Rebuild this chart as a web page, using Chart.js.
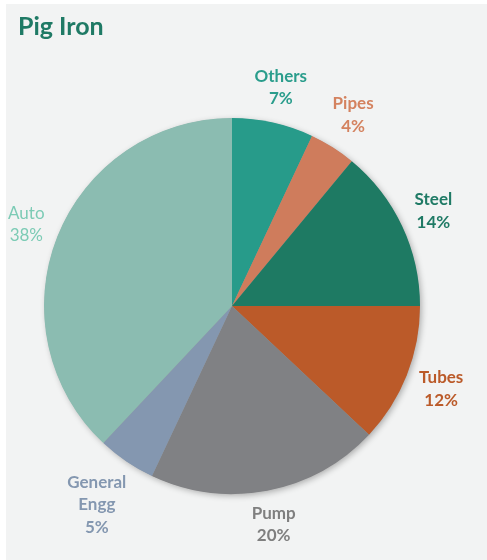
<!DOCTYPE html>
<html>
<head>
<meta charset="utf-8">
<script src="https://cdn.jsdelivr.net/npm/chart.js@4.4.1/dist/chart.umd.min.js"></script>
<style>
  body { margin: 0; background: #ffffff; }
  #wrap { position: absolute; left: 6px; top: 4px; width: 481px; height: 556px; background: #f2f3f3; }
</style>
</head>
<body>
<div id="wrap"><canvas id="pigIronChart" width="481" height="556"></canvas></div>
<script>
// Pig iron consumption share by sector
var categories = ['Others', 'Pipes', 'Steel', 'Tubes', 'Pump', 'General Engg', 'Auto'];
var shares = [7, 4, 14, 12, 20, 5, 38];
var labelLines = [['Others'], ['Pipes'], ['Steel'], ['Tubes'], ['Pump'], ['General', 'Engg'], ['Auto']];
var sliceColors = ['#279b8a', '#cf7c5c', '#1e7a63', '#bb5a29', '#808184', '#8497b0', '#8bbcb1'];
var labelColors = ['#2a9d8c', '#d4825f', '#1f7a65', '#bb5a29', '#7f7f7f', '#8497b0', '#7ccbb5'];
var labelWeights = ['bold', 'bold', 'bold', 'bold', 'bold', 'bold', 'normal'];

var pieShadow = {
    id: 'pieShadow',
    beforeDatasetsDraw: function(chart) {
        var arc = chart.getDatasetMeta(0).data[0];
        if (!arc) return;
        var p = arc.getProps(['x', 'y', 'outerRadius'], true);
        var ctx = chart.ctx;
        ctx.save();
        ctx.shadowColor = 'rgba(0,0,0,0.3)';
        ctx.shadowBlur = 6;
        ctx.shadowOffsetX = 2;
        ctx.shadowOffsetY = 2;
        ctx.fillStyle = '#999999';
        ctx.beginPath();
        ctx.arc(p.x, p.y, p.outerRadius - 0.5, 0, Math.PI * 2);
        ctx.fill();
        ctx.restore();
    }
};

var outsideLabels = {
    id: 'outsideLabels',
    afterDraw: function(chart) {
        var ctx = chart.ctx;
        var meta = chart.getDatasetMeta(0);
        var lh = 22.5;
        ctx.save();
        ctx.textAlign = 'center';
        ctx.textBaseline = 'middle';
        meta.data.forEach(function(arc, i) {
            var p = arc.getProps(['x', 'y', 'startAngle', 'endAngle', 'outerRadius'], true);
            var mid = (p.startAngle + p.endAngle) / 2;
            var c = Math.cos(mid), s = Math.sin(mid);
            var lines = labelLines[i].concat([shares[i] + '%']);
            ctx.font = labelWeights[i] + ' 17px Lato';
            var w = 0;
            lines.forEach(function(t) { w = Math.max(w, ctx.measureText(t).width); });
            var h = lines.length * lh;
            var d = p.outerRadius + 8 + Math.abs(c) * w / 2 + Math.abs(s) * h / 2;
            var cx = p.x + c * d, cy = p.y + s * d;
            ctx.fillStyle = labelColors[i];
            lines.forEach(function(t, j) {
                ctx.fillText(t, cx, cy - h / 2 + lh / 2 + j * lh);
            });
        });
        // chart title
        ctx.textAlign = 'left';
        ctx.textBaseline = 'alphabetic';
        ctx.font = 'bold 25px Lato';
        ctx.fillStyle = '#1f7a65';
        ctx.fillText('Pig Iron', 12, 31);
        ctx.restore();
    }
};

document.addEventListener('DOMContentLoaded', function() {
    var ctx = document.getElementById('pigIronChart').getContext('2d');
    new Chart(ctx, {
        type: 'pie',
        data: {
            labels: categories,
            datasets: [{
                data: shares,
                backgroundColor: sliceColors,
                borderWidth: 0
            }]
        },
        options: {
            responsive: false,
            animation: false,
            layout: { padding: { top: 114, left: 38, right: 67, bottom: 66 } },
            plugins: {
                legend: { display: false },
                tooltip: { enabled: false }
            }
        },
        plugins: [pieShadow, outsideLabels]
    });
});
</script>
</body>
</html>
